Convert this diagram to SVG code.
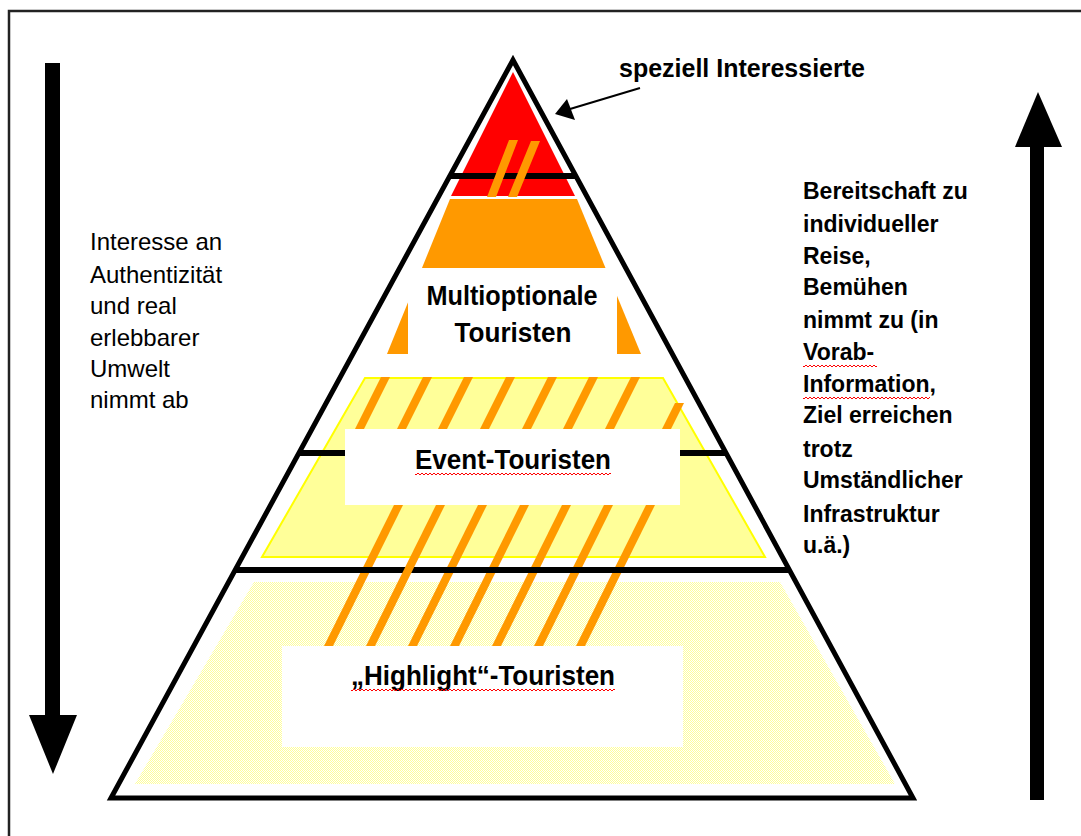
<svg xmlns="http://www.w3.org/2000/svg" width="1081" height="836" viewBox="0 0 1081 836">
<style>
.lbl{font-family:"Liberation Sans",Arial,sans-serif;font-weight:bold;fill:#000}
.side{font-family:"Liberation Sans",Arial,sans-serif;fill:#000}
.stripe{fill:#FF9900}
.bar{stroke:#000;stroke-width:6;fill:none}
.box{fill:#fff}
</style>
<defs>
<pattern id="squig" width="4" height="4" patternUnits="userSpaceOnUse">
<path d="M0 3 L2 1 L4 3" fill="none" stroke="#FF0000" stroke-width="1"/>
</pattern>
<pattern id="dots" width="2" height="2" patternUnits="userSpaceOnUse">
<rect width="2" height="2" fill="#fff"/>
<rect width="1" height="1" fill="#FFFF99"/>
<rect x="1" y="1" width="1" height="1" fill="#FFFF99"/>
</pattern>
</defs>
<rect id="frame" x="9" y="11" width="1090" height="850" fill="#fff" stroke="#222" stroke-width="2.5"/>

<g id="tier-highlight">
<polygon points="254,582 780,582 895,784 135,784" fill="url(#dots)"/>
</g>

<g id="tier-event">
<polygon points="365,378 663,378 765,557 262,557" fill="#FFFF99" stroke="#FFFF00" stroke-width="2"/>
</g>

<g id="stripes">
<polygon class="stripe" points="381,377 390,377 364,429 355,429"/>
<polygon class="stripe" points="423,377 432,377 406,429 397,429"/>
<polygon class="stripe" points="464,377 473,377 447,429 438,429"/>
<polygon class="stripe" points="506,377 515,377 489,429 480,429"/>
<polygon class="stripe" points="548,377 557,377 531,429 522,429"/>
<polygon class="stripe" points="589,377 598,377 572,429 563,429"/>
<polygon class="stripe" points="631,377 640,377 614,429 605,429"/>
<polygon class="stripe" points="675,403 684,403 671,429 662,429"/>
<polygon class="stripe" points="394,505 403,505 333,646 324,646"/>
<polygon class="stripe" points="478,505 487,505 417,646 408,646"/>
<polygon class="stripe" points="520,505 529,505 459,646 450,646"/>
<polygon class="stripe" points="562,505 571,505 501,646 492,646"/>
<polygon class="stripe" points="604,505 613,505 543,646 534,646"/>
<polygon class="stripe" points="646,505 655,505 585,646 576,646"/>
</g>

<g id="tier-multioptional">
<polygon points="450,199 577,199 641,354 387,354" fill="#FF9900"/>
<rect class="box" x="408" y="268" width="209" height="90"/>
<text class="lbl" x="512" y="305" font-size="27" text-anchor="middle" textLength="171" lengthAdjust="spacingAndGlyphs">Multioptionale</text>
<text class="lbl" x="513" y="342" font-size="27" text-anchor="middle" textLength="117" lengthAdjust="spacingAndGlyphs">Touristen</text>
</g>

<g id="tier-special">
<polygon points="513,72 575,196 451,196" fill="#FF0000"/>
</g>

<g id="event-label">
<rect class="box" x="345" y="429" width="335" height="76"/>
<text class="lbl" x="513" y="469" font-size="27" text-anchor="middle" textLength="196" lengthAdjust="spacingAndGlyphs">Event-Touristen</text>
<rect x="415" y="471" width="196" height="4" fill="url(#squig)"/>
</g>

<g id="highlight-label">
<rect class="box" x="282" y="646" width="401" height="101"/>
<text class="lbl" x="483" y="685" font-size="28" text-anchor="middle" textLength="264" lengthAdjust="spacingAndGlyphs">„Highlight“-Touristen</text>
<rect x="351" y="687" width="264" height="4" fill="url(#squig)"/>
</g>

<g id="pyramid">
<polygon points="513,60 111,798 913,798" fill="none" stroke="#000" stroke-width="5"/>
<line class="bar" x1="449" y1="176" x2="577" y2="176"/>
<line class="bar" x1="300" y1="453" x2="345" y2="453"/>
<line class="bar" x1="680" y1="453" x2="725" y2="453"/>
<line class="bar" x1="236" y1="570" x2="790" y2="570"/>
<polygon class="stripe" points="436,505 445,505 375,646 366,646"/>
<polygon class="stripe" points="509,140 518,140 496,197 487,197"/>
<polygon class="stripe" points="531,141 540,141 517,197 508,197"/>
</g>

<g id="label-special">
<text class="lbl" x="619" y="77" font-size="25">speziell Interessierte</text>
</g>

<g id="text-left">
<text class="side" font-size="24" x="90">
<tspan x="90" y="250">Interesse an</tspan>
<tspan x="90" y="283">Authentizität</tspan>
<tspan x="90" y="314">und real</tspan>
<tspan x="90" y="346">erlebbarer</tspan>
<tspan x="90" y="377">Umwelt</tspan>
<tspan x="90" y="408">nimmt ab</tspan>
</text>
</g>

<g id="text-right">
<text class="side" font-size="23" font-weight="bold">
<tspan x="803" y="199">Bereitschaft zu</tspan>
<tspan x="803" y="232">individueller</tspan>
<tspan x="803" y="264">Reise,</tspan>
<tspan x="803" y="295">Bemühen</tspan>
<tspan x="803" y="328">nimmt zu (in</tspan>
<tspan x="803" y="360">Vorab-</tspan>
<tspan x="803" y="392">Information,</tspan>
<tspan x="803" y="423">Ziel erreichen</tspan>
<tspan x="803" y="457">trotz</tspan>
<tspan x="803" y="488">Umständlicher</tspan>
<tspan x="803" y="522">Infrastruktur</tspan>
<tspan x="803" y="553">u.ä.)</tspan>
</text>
<rect x="803" y="365" width="74" height="4" fill="url(#squig)"/>
<rect x="803" y="395" width="127" height="4" fill="url(#squig)"/>
</g>

<g id="connectors">
<line x1="640" y1="88" x2="570" y2="109" stroke="#000" stroke-width="2"/>
<polygon points="555,114 567,99 575,120" fill="#000"/>
<rect x="45" y="63" width="15" height="653" fill="#000"/>
<polygon points="29,715 77,715 53,774" fill="#000"/>
<rect x="1030" y="146" width="14" height="654" fill="#000"/>
<polygon points="1015,147 1062,147 1038,92" fill="#000"/>
</g>
</svg>
